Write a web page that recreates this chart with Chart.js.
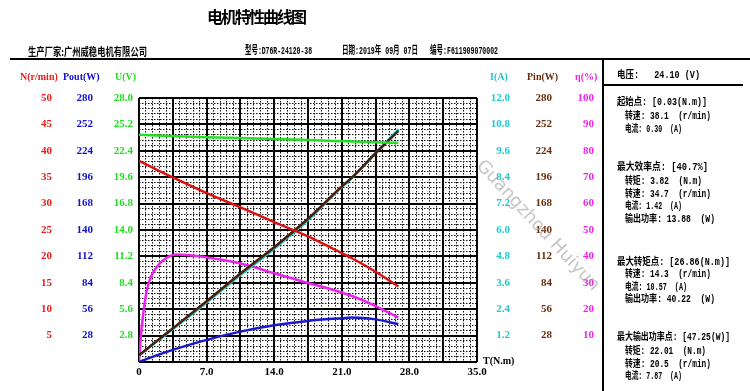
<!DOCTYPE html>
<html>
<head>
<meta charset="utf-8">
<script src="https://cdn.jsdelivr.net/npm/chart.js@4.4.0/dist/chart.umd.min.js"></script>
<style>
  body { margin: 0; background: #fff; }
  #wrap { position: relative; width: 750px; height: 391px; overflow: hidden; background: #fff; }
  #wrap canvas { position: absolute; left: 0; top: 0; }
  .t { position: absolute; white-space: nowrap; font-weight: bold; line-height: 1; color: #000;
       font-family: "Liberation Mono", "Noto Sans CJK SC", monospace; }
  .cn { font-family: "Noto Sans CJK SC", sans-serif; }
  .hdr { font-size: 11px; top: 46px; }
  .ax { font-size: 10px; top: 72px; font-family: "Liberation Serif", serif; }
  .p { font-size: 10px; left: 617px; }
  .p2 { left: 625px; }
  .hline { position: absolute; background: #000; }
  #wm { position: absolute; left: 449px; top: 214px; width: 180px; text-align: center; white-space: nowrap;
        font: 18px "DejaVu Sans", sans-serif; color: rgba(150,150,150,0.55);
        transform: rotate(47deg); transform-origin: 50% 50%; }
</style>
</head>
<body>
<div id="wrap">
  <canvas id="chart" width="750" height="391"></canvas>

  <div class="t cn" style="left:206px;top:8px;width:100px;text-align:center;font-size:16px;letter-spacing:-2px;">电机特性曲线图</div>

  <div class="t hdr cn" data-w="119" style="left:28px;">生产厂家:广州威稳电机有限公司</div>
  <div class="t hdr" data-w="67" style="left:245px;">型号:D76R-24120-38</div>
  <div class="t hdr" data-w="76" style="left:342px;">日期:2019年 09月 07日</div>
  <div class="t hdr" data-w="68" style="left:430px;">编号:F611909070002</div>
  <div class="hline" style="left:10px;top:58px;width:740px;height:2px;"></div>
  <div class="hline" style="left:602px;top:59px;width:2px;height:332px;"></div>
  <div class="hline" style="left:603px;top:84px;width:140px;height:1.5px;"></div>

  <div class="t ax" style="left:20px;color:#e8201c;">N(r/min)</div>
  <div class="t ax" style="left:63px;color:#1010d0;">Pout(W)</div>
  <div class="t ax" style="left:115px;color:#22dd22;">U(V)</div>
  <div class="t ax" style="left:490px;color:#22c8cc;">I(A)</div>
  <div class="t ax" style="left:527px;color:#6b2c0c;">Pin(W)</div>
  <div class="t ax" style="left:575px;color:#ee22ee;">η(%)</div>
  <div class="t ax" style="left:483px;top:356px;">T(N.m)</div>

  <div class="t p" data-w="83" style="top:71px;">电压:&nbsp;&nbsp;&nbsp;24.10 (V)</div>
  <div class="t p" data-w="90" style="top:98px;">起始点: [0.03(N.m)]</div>
  <div class="t p p2" data-w="86" style="top:112px;">转速: 38.1&nbsp;&nbsp;(r/min)</div>
  <div class="t p p2" data-w="57" style="top:125px;">电流: 0.30&nbsp;&nbsp;(A)</div>
  <div class="t p" data-w="91" style="top:163px;">最大效率点: [40.7%]</div>
  <div class="t p p2" data-w="77" style="top:177px;">转矩: 3.82&nbsp;&nbsp;(N.m)</div>
  <div class="t p p2" data-w="86" style="top:190px;">转速: 34.7&nbsp;&nbsp;(r/min)</div>
  <div class="t p p2" data-w="57" style="top:202px;">电流: 1.42&nbsp;&nbsp;(A)</div>
  <div class="t p p2" data-w="90" style="top:215px;">输出功率: 13.88&nbsp;&nbsp;(W)</div>
  <div class="t p" data-w="113" style="top:258px;">最大转矩点: [26.86(N.m)]</div>
  <div class="t p p2" data-w="86" style="top:270px;">转速: 14.3&nbsp;&nbsp;(r/min)</div>
  <div class="t p p2" data-w="62" style="top:283px;">电流: 10.57&nbsp;&nbsp;(A)</div>
  <div class="t p p2" data-w="90" style="top:295px;">输出功率: 40.22&nbsp;&nbsp;(W)</div>
  <div class="t p" data-w="113" style="top:333px;">最大输出功率点: [47.25(W)]</div>
  <div class="t p p2" data-w="81" style="top:347px;">转矩: 22.01&nbsp;&nbsp;(N.m)</div>
  <div class="t p p2" data-w="86" style="top:360px;">转速: 20.5&nbsp;&nbsp;(r/min)</div>
  <div class="t p p2" data-w="57" style="top:372px;">电流: 7.87&nbsp;&nbsp;(A)</div>

  <div id="wm">Guangzhou Huiyun</div>
</div>

<script>
// torque points (N.m) shared by most curves
const torque = [0, 1.75, 3.82, 7, 10.5, 14, 17.5, 21, 22.01, 24.5, 26.86];
const speed = [38.1, 36.5, 34.7, 32.0, 29.3, 26.5, 23.8, 20.6, 19.7, 17.1, 14.3];
const outputPower = [0, 6.7, 13.88, 23.5, 32.2, 38.9, 43.6, 46.5, 47.25, 45.2, 40.22];
const voltage = [24.1, 24.02, 23.95, 23.85, 23.75, 23.65, 23.55, 23.42, 23.38, 23.3, 23.22];
const current = [0.30, 0.9, 1.6, 2.7, 3.95, 5.15, 6.45, 7.95, 8.35, 9.5, 10.57];
const inputPower = [7.2, 21.6, 38.3, 64.4, 93.8, 121.8, 151.9, 186.2, 195.2, 221.4, 245.2];

// efficiency has a steep start, so it gets its own torque points
const effTorque = [0, 0.25, 0.5, 0.8, 1.2, 1.75, 2.5, 3.82, 5.25, 7, 8.75, 10.5, 12.25, 14, 15.75, 17.5, 19.25, 21, 22.01, 24.5, 26.86];
const efficiency = [0, 12, 20, 27, 32, 35.5, 38.5, 40.7, 40.4, 39.6, 38.6, 37.3, 35.6, 33.6, 31.8, 29.9, 28.2, 26.3, 25.1, 21.2, 16.8];

// tick values for each axis
const torqueTicks = [0, 3.5, 7, 10.5, 14, 17.5, 21, 24.5, 28, 31.5, 35];
const speedTicks = [0, 5, 10, 15, 20, 25, 30, 35, 40, 45, 50];
const poutTicks = [0, 28, 56, 84, 112, 140, 168, 196, 224, 252, 280];
const voltTicks = [0, 2.8, 5.6, 8.4, 11.2, 14.0, 16.8, 19.6, 22.4, 25.2, 28.0];
const currentTicks = [0, 1.2, 2.4, 3.6, 4.8, 6.0, 7.2, 8.4, 9.6, 10.8, 12.0];
const pinTicks = [0, 28, 56, 84, 112, 140, 168, 196, 224, 252, 280];
const effTicks = [0, 10, 20, 30, 40, 50, 60, 70, 80, 90, 100];

const pts = (xs, ys) => xs.map((x, i) => ({ x: x, y: ys[i] }));
const tickFont = { family: 'Liberation Serif', weight: 'bold', size: 11 };

// squeeze the condensed header / panel texts to the widths seen in the original
document.querySelectorAll('[data-w]').forEach(el => {
    const w = el.getBoundingClientRect().width;
    el.style.transformOrigin = '0 50%';
    el.style.transform = 'scaleX(' + (el.dataset.w / w) + ')';
});

// a value axis with fixed ticks, no grid on the chart area
function valueAxis(ticks, color, position, weight, width, decimals) {
    return {
        type: 'linear',
        position: position,
        weight: weight,
        min: ticks[0],
        max: ticks[ticks.length - 1],
        afterBuildTicks: axis => { axis.ticks = ticks.map(v => ({ value: v })); },
        afterFit: axis => { axis.width = width; },
        grid: { drawOnChartArea: false, drawTicks: false },
        border: { display: false },
        ticks: {
            color: color,
            font: tickFont,
            padding: 6,
            autoSkip: false,
            crossAlign: position === 'left' ? 'near' : 'far',
            callback: v => v === 0 ? '' : v.toFixed(decimals)
        }
    };
}

const scales = {
    x: {
        type: 'linear',
        position: 'bottom',
        min: 0,
        max: 35,
        afterBuildTicks: axis => { axis.ticks = torqueTicks.map(v => ({ value: v })); },
        afterFit: axis => { axis.height = 20; },
        grid: { color: '#000', lineWidth: 2, drawTicks: false },
        border: { display: false },
        ticks: {
            color: '#000',
            font: tickFont,
            padding: 4,
            autoSkip: false,
            maxRotation: 0,
            callback: v => v === 0 ? '0' : (v % 7 === 0 ? v.toFixed(1) : '')
        }
    },
    // fine dotted pattern inside each grid cell
    xm: {
        type: 'linear', position: 'top', min: 0, max: 35,
        ticks: { display: false, stepSize: 0.7 },
        afterFit: axis => { axis.height = 0; },
        grid: { color: '#111', lineWidth: 1, drawTicks: false },
        border: { display: false, dash: [1.5, 1.5] }
    },
    ym: {
        type: 'linear', position: 'left', weight: 0, min: 0, max: 28,
        ticks: { display: false, stepSize: 0.56 },
        afterFit: axis => { axis.width = 0; },
        grid: { color: '#111', lineWidth: 1, drawTicks: false },
        border: { display: false, dash: [1.5, 1.5] }
    },
    yU: valueAxis(voltTicks, '#22dd22', 'left', 1, 40, 1),
    yP: valueAxis(poutTicks, '#1010d0', 'left', 2, 41, 0),
    yN: valueAxis(speedTicks, '#e8201c', 'left', 3, 58, 0),
    yI: valueAxis(currentTicks, '#22c8cc', 'right', 1, 33, 1),
    yPin: valueAxis(pinTicks, '#6b2c0c', 'right', 2, 42, 0),
    yE: valueAxis(effTicks, '#ee22ee', 'right', 3, 42, 0)
};
// the voltage axis also draws the main horizontal grid
scales.yU.grid = { drawOnChartArea: true, color: '#000', lineWidth: 2, drawTicks: false };

function curve(data, color, axis) {
    return {
        data: data,
        yAxisID: axis,
        xAxisID: 'x',
        borderColor: color,
        borderWidth: 2.5,
        pointRadius: 0,
        fill: false,
        cubicInterpolationMode: 'monotone'
    };
}

// first dataset ends up on top
new Chart(document.getElementById('chart').getContext('2d'), {
    type: 'line',
    data: {
        datasets: [
            curve(pts(torque, voltage), '#22e022', 'yU'),
            curve(pts(torque, speed), '#dd1111', 'yN'),
            curve(pts(torque, inputPower), '#4a1e0a', 'yPin'),
            curve(pts(torque, current), '#20c4c4', 'yI'),
            curve(pts(torque, outputPower), '#1a1acc', 'yP'),
            curve(pts(effTorque, efficiency), '#ee22ee', 'yE')
        ]
    },
    options: {
        responsive: false,
        animation: false,
        layout: { padding: { left: 0, right: 156, top: 98, bottom: 9 } },
        plugins: { legend: { display: false }, tooltip: { enabled: false } },
        scales: scales
    }
});
</script>
</body>
</html>
